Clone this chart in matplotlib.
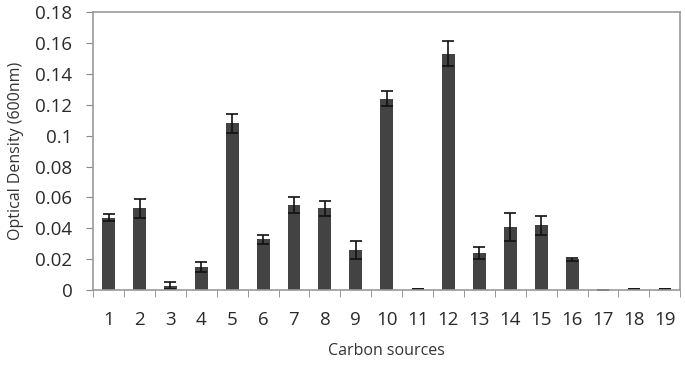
import matplotlib
matplotlib.use("Agg")
import matplotlib.pyplot as plt
import numpy as np

plt.rcParams['font.family'] = ['Open Sans', 'DejaVu Sans']

#Carbon source index, optical density and error
sources = [str(i) for i in range(1, 20)]
density = [0.047, 0.053, 0.003, 0.015, 0.108, 0.033, 0.055, 0.053, 0.026, 0.124,
           0.001, 0.153, 0.024, 0.041, 0.042, 0.020, 0.0, 0.0005, 0.0005]
errors = [0.002, 0.006, 0.002, 0.003, 0.006, 0.003, 0.005, 0.005, 0.006, 0.005,
          0.0, 0.008, 0.004, 0.009, 0.006, 0.001, 0.0, 0.0, 0.0]
yticks = [0, 0.02, 0.04, 0.06, 0.08, 0.1, 0.12, 0.14, 0.16, 0.18]
ylabels = ["0", "0.02", "0.04", "0.06", "0.08", "0.1", "0.12", "0.14", "0.16", "0.18"]

fig = plt.figure(figsize=(6.85, 3.65), dpi=100)
ax = fig.add_axes([0.136, 0.205, 0.857, 0.762])

x = np.arange(len(sources))
ax.bar(x, density, width=0.42, color="#434343", yerr=errors,
       error_kw=dict(ecolor="#111111", elinewidth=1.2, capsize=4, capthick=1.2))

ax.set_xlim(-0.5, len(sources) - 0.5)
ax.set_ylim(0, 0.18)
ax.set_yticks(yticks)
ax.set_yticklabels(ylabels)
ax.set_xticks(x)
ax.set_xticklabels(sources)
#tick marks between categories
ax.set_xticks(np.arange(-0.5, len(sources)), minor=True)
ax.tick_params(axis="x", which="major", length=0, pad=15, labelsize=13.5, colors="#2a2a2a")
ax.tick_params(axis="x", which="minor", length=5, color="#888888", direction="out")
ax.tick_params(axis="y", length=5, color="#888888", pad=10, labelsize=13.5, colors="#2a2a2a")

for s in ax.spines.values():
    s.set_color("#999999")
    s.set_linewidth(1.2)

ax.set_xlabel("Carbon sources", fontsize=11.5, color="#333333", labelpad=10)
ax.set_ylabel("Optical Density (600nm)", fontsize=11.5, color="#333333", labelpad=8)

fig.savefig("out.png", dpi=100)
